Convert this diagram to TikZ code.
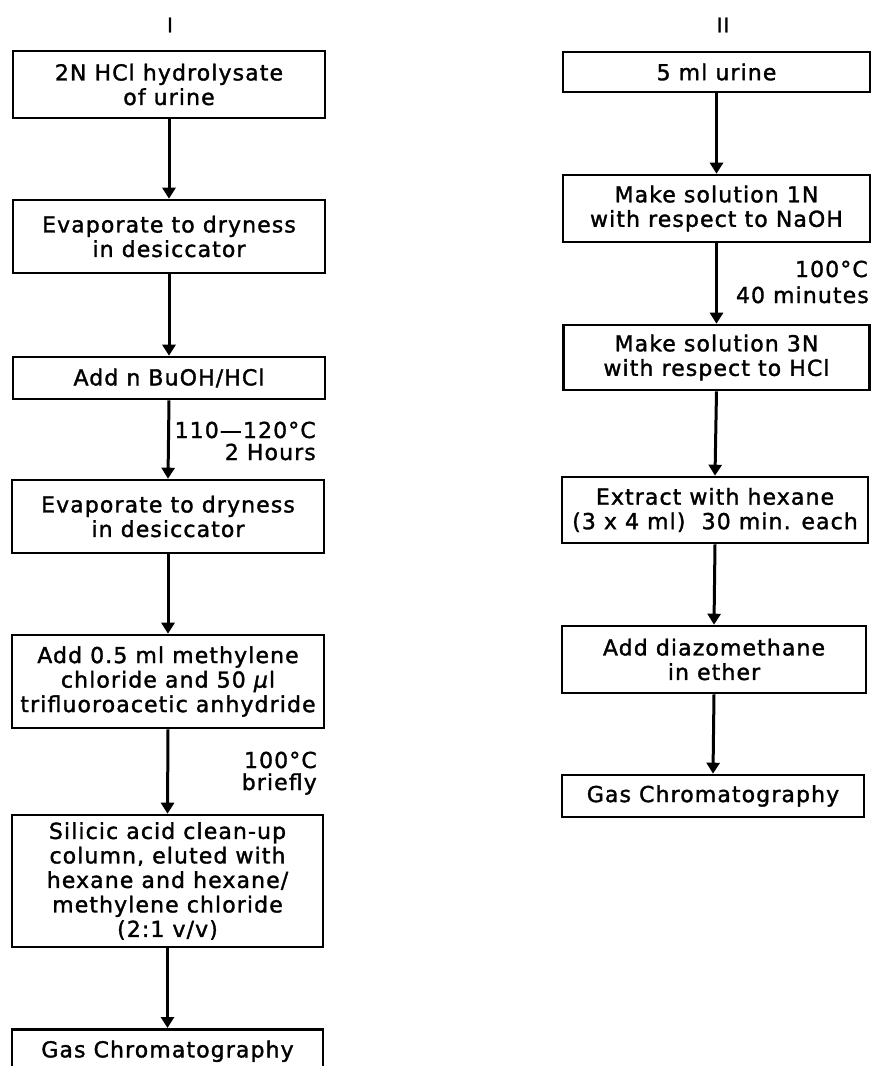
\documentclass[tikz,border=0pt]{standalone}
\usepackage{fontspec}
\setmainfont{DejaVu Sans}[LetterSpace=5,FakeBold=1.5]
\usetikzlibrary{arrows.meta}
\begin{document}
\begin{tikzpicture}[x=1pt,y=-1pt,
  box/.style={draw, line width=2.6pt, inner sep=0pt, align=center,
    font=\fontsize{22}{24.5}\selectfont},
  flow/.style={line width=3pt, -{Triangle[width=13pt,length=11pt]}},
  lbl/.style={inner sep=0pt, anchor=base east, font=\fontsize{22}{24}\selectfont},
  head/.style={inner sep=0pt, font=\fontsize{20}{22}\selectfont}]
\useasboundingbox (0,0) rectangle (874,1066);
\clip (0,0) rectangle (874,1066);
% headings
\node[head] (h1) at (170,25) {I};
\node[head] (h2) at (723,25) {II};
% column I
\node[box, minimum width=312pt, minimum height=67pt] (a1) at (169,84.5) {2N HCl hydrolysate\\of urine};
\node[box, minimum width=312pt, minimum height=73pt] (a2) at (169,236.5) {Evaporate to dryness\\in desiccator};
\node[box, minimum width=312pt, minimum height=42pt] (a3) at (169,378) {Add n BuOH/HCl};
\node[box, minimum width=312pt, minimum height=73pt] (a4) at (168,516.5) {Evaporate to dryness\\in desiccator};
\node[box, minimum width=312pt, minimum height=93pt] (a5) at (168,681.5) {Add 0.5 ml methylene\\chloride and 50 \textit{μ}l\\trifluoroacetic anhydride};
\node[box, minimum width=311pt, minimum height=132pt] (a6) at (167.5,881) {Silicic acid clean-up\\column, eluted with\\hexane and hexane/\\methylene chloride\\(2:1 v/v)};
\node[box, minimum width=311pt, minimum height=44pt, anchor=north] (a7) at (167.5,1028) {Gas\ Chromatography};
\draw[flow] (a1.south) -- (a2.north);
\draw[flow] (a2.south) -- (a3.north);
\draw[flow] (a3.south) -- (a4.north);
\draw[flow] (a4.south) -- (a5.north);
\draw[flow] (a5.south) -- (a6.north);
\draw[flow] (a6.south) -- (a7.north);
\node[lbl] (l1a) at (316,438) {110—120°C};
\node[lbl] (l1b) at (316,460) {2 Hours};
\node[lbl] (l2a) at (317,768) {100°C};
\node[lbl] (l2b) at (317,790) {briefly};
% column II
\node[box, minimum width=307pt, minimum height=40pt] (b1) at (716.5,72) {5 ml urine};
\node[box, minimum width=307pt, minimum height=67pt] (b2) at (716.5,208.5) {Make solution 1N\\with respect to NaOH};
\node[box, minimum width=306pt, minimum height=65pt] (b3) at (716.5,357.5) {Make solution 3N\\with respect to HCl};
\node[box, minimum width=306pt, minimum height=66pt] (b4) at (715,510) {Extract with hexane\\(3 x 4 ml)\ \ 30 min. each};
\node[box, minimum width=304pt, minimum height=67pt] (b5) at (714,659.5) {Add diazomethane\\in ether};
\node[box, minimum width=302pt, minimum height=42pt] (b6) at (713,796) {Gas Chromatography};
\draw[flow] (b1.south) -- (b2.north);
\draw[flow] (b2.south) -- (b3.north);
\draw[flow] (b3.south) -- (b4.north);
\draw[flow] (b4.south) -- (b5.north);
\draw[flow] (b5.south) -- (b6.north);
\node[lbl] (l3a) at (868,277) {100°C};
\node[lbl] (l3b) at (869,303) {40 minutes};
\end{tikzpicture}
\end{document}
